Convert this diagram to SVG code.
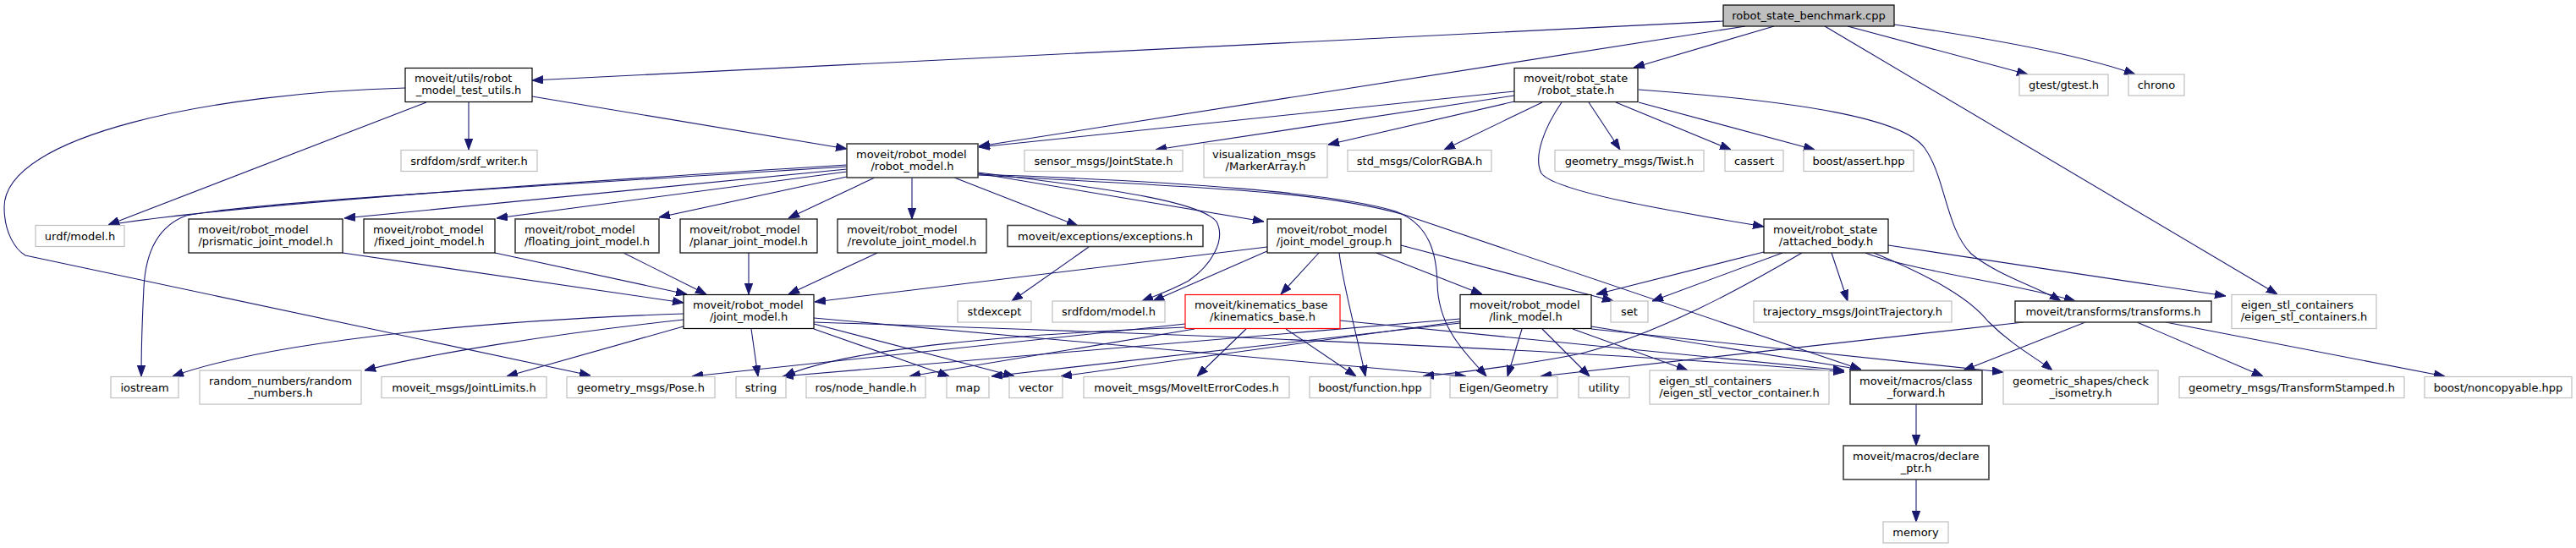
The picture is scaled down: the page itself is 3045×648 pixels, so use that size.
<svg xmlns="http://www.w3.org/2000/svg" width="3045" height="648" viewBox="0 0 3045 648">
<style>
text{font-family:"DejaVu Sans","Liberation Sans",sans-serif;font-size:13px;fill:#000}
.m{text-anchor:middle}
rect{fill:#fff;stroke:#000;stroke-width:1.2}
.g rect{stroke:#404040;stroke-width:1.6}
.x rect{stroke:#bfbfbf;stroke-width:1.2}
.r rect{stroke:#ff0000}
.root rect{fill:#bfbfbf;stroke:#000}
#edges path{fill:none;stroke:#191970;stroke-width:1.1;marker-end:url(#a)}
</style>
<defs>
<marker id="a" markerUnits="userSpaceOnUse" viewBox="0 -5 13 10" refX="13" refY="0" markerWidth="13" markerHeight="10" orient="auto">
<path d="M0,-4.7 L13,0 L0,4.7 z" fill="#191970" stroke="#191970" stroke-width="1"/>
</marker>
</defs>
<rect x="0" y="0" width="3045" height="648" style="fill:#fff;stroke:none"/>
<g id="edges">
<path d="M2037,25 L629,95"/>
<path d="M2097,31 L1931,80"/>
<path d="M2063,31 L1157,173"/>
<path d="M2184,31 L2397,88"/>
<path d="M2239,29 C2350,45 2460,65 2524,88"/>
<path d="M2157,31 L2692,348"/>
<path d="M629,114 L1001,176"/>
<path d="M554,121 L554,177"/>
<path d="M504,121 L128,266"/>
<path d="M479,104 C250,110 5,160 5,245 C5,275 18,295 30,302 L698,444"/>
<path d="M1790,108 L1157,174"/>
<path d="M1790,113 L1366,177"/>
<path d="M1790,120 L1570,171"/>
<path d="M1823,121 L1707,177"/>
<path d="M1878,121 L1915,177"/>
<path d="M1910,121 L2046,177"/>
<path d="M1937,121 L2145,177"/>
<path d="M1846,121 C1826,150 1812,185 1822,205 C1840,228 1990,252 2085,268"/>
<path d="M1937,106 C2130,120 2250,140 2275,175 C2300,210 2300,270 2330,300 C2360,325 2410,340 2436,356"/>
<path d="M1001,195 Q300,238 128,266"/>
<path d="M1001,197 C600,222 290,240 220,255 C185,268 172,300 170,340 C168,380 167,420 167,445"/>
<path d="M1001,200 L407,258"/>
<path d="M1001,203 L587,258"/>
<path d="M1001,209 L779,257"/>
<path d="M1034,210 L932,258"/>
<path d="M1078,210 L1078,259"/>
<path d="M1128,210 L1274,267"/>
<path d="M1156,205 L1494,262"/>
<path d="M1156,204 C1330,225 1420,240 1438,262 C1450,285 1430,315 1405,332 C1385,343 1365,350 1350,356"/>
<path d="M1156,206 C1400,215 1580,228 1650,250 C1690,265 1698,300 1699,335 C1700,390 1735,420 1757,445"/>
<path d="M1156,207 C1420,222 1560,225 1660,254 L2200,437"/>
<path d="M1656,290 L1907,356"/>
<path d="M1627,299 L1752,348"/>
<path d="M1498,292 L963,357"/>
<path d="M1500,296 L1363,356"/>
<path d="M1559,299 L1514,348"/>
<path d="M1583,299 C1588,340 1605,400 1614,445"/>
<path d="M1287,292 L1196,356"/>
<path d="M2085,298 L1887,348"/>
<path d="M2107,299 L1953,356"/>
<path d="M2130,299 C2060,340 1960,395 1869,418 C1800,432 1730,440 1682,445"/>
<path d="M2165,299 L2184,356"/>
<path d="M2215,299 C2290,330 2330,355 2350,380 C2380,410 2410,425 2426,438"/>
<path d="M2205,299 C2260,320 2380,335 2453,356"/>
<path d="M2232,290 L2631,350"/>
<path d="M1799,389 L1782,445"/>
<path d="M1823,389 L1879,445"/>
<path d="M1859,389 L1995,438"/>
<path d="M1881,386 L2200,437"/>
<path d="M1881,389 L2368,440"/>
<path d="M1726,377 L925,445"/>
<path d="M1726,380 L1254,445"/>
<path d="M1726,382 L1172,445"/>
<path d="M1401,387 C1200,395 1000,412 927,445"/>
<path d="M1412,389 L1075,445"/>
<path d="M1401,383 L818,445"/>
<path d="M1473,389 L1415,445"/>
<path d="M1520,389 L1603,445"/>
<path d="M1584,379 L2180,438"/>
<path d="M808,371 C600,378 330,400 204,445"/>
<path d="M808,378 C650,395 500,420 431,438"/>
<path d="M808,386 L599,445"/>
<path d="M888,389 L896,445"/>
<path d="M962,389 L1122,445"/>
<path d="M962,383 L1199,445"/>
<path d="M962,376 L1733,445"/>
<path d="M962,381 C1400,395 1900,415 2180,440"/>
<path d="M2465,381 L2321,438"/>
<path d="M2392,381 L1821,445"/>
<path d="M2526,381 L2675,445"/>
<path d="M2560,381 L2890,445"/>
<path d="M2265,478 L2265,527"/>
<path d="M2265,567 L2265,617"/>
<path d="M405,299 L808,358"/>
<path d="M585,299 L812,348"/>
<path d="M737,299 L835,348"/>
<path d="M885,299 L885,348"/>
<path d="M1037,299 L932,348"/>
</g>
<g id="n_cpp" class="root"><rect x="2037" y="6" width="202" height="25"/><text class="m" x="2138" y="23">robot_state_benchmark.cpp</text></g>
<g id="n_test_utils"><rect x="479" y="80.5" width="150" height="40"/><text x="490" y="97">moveit/utils/robot</text><text class="m" x="554" y="111">_model_test_utils.h</text></g>
<g id="n_robot_state"><rect x="1790" y="80.5" width="146" height="40"/><text x="1801" y="97">moveit/robot_state</text><text class="m" x="1863" y="111">/robot_state.h</text></g>
<g id="n_gtest" class="x"><rect x="2387" y="88" width="105" height="25"/><text class="m" x="2439.5" y="105">gtest/gtest.h</text></g>
<g id="n_chrono" class="x"><rect x="2516" y="88" width="66" height="25"/><text class="m" x="2549" y="105">chrono</text></g>
<g id="n_robot_model" class="g"><rect x="1001" y="170" width="155" height="40"/><text x="1012" y="186.5">moveit/robot_model</text><text class="m" x="1078.5" y="200.5">/robot_model.h</text></g>
<g id="n_srdf_writer" class="x"><rect x="474" y="177.5" width="161" height="25"/><text class="m" x="554.5" y="194.5">srdfdom/srdf_writer.h</text></g>
<g id="n_jointstate" class="x"><rect x="1211" y="177.5" width="187" height="25"/><text class="m" x="1304.5" y="194.5">sensor_msgs/JointState.h</text></g>
<g id="n_markerarray" class="x"><rect x="1423" y="170" width="146" height="40"/><text x="1433" y="186.5">visualization_msgs</text><text class="m" x="1496" y="200.5">/MarkerArray.h</text></g>
<g id="n_colorrgba" class="x"><rect x="1593" y="177.5" width="170" height="25"/><text class="m" x="1678" y="194.5">std_msgs/ColorRGBA.h</text></g>
<g id="n_twist" class="x"><rect x="1838" y="177.5" width="176" height="25"/><text class="m" x="1926" y="194.5">geometry_msgs/Twist.h</text></g>
<g id="n_cassert" class="x"><rect x="2039" y="177.5" width="69" height="25"/><text class="m" x="2073.5" y="194.5">cassert</text></g>
<g id="n_boost_assert" class="x"><rect x="2132" y="177.5" width="130" height="25"/><text class="m" x="2197" y="194.5">boost/assert.hpp</text></g>
<g id="n_urdf" class="x"><rect x="42" y="266.5" width="105" height="25"/><text class="m" x="94.5" y="283.5">urdf/model.h</text></g>
<g id="n_prismatic"><rect x="223" y="259" width="182" height="40"/><text x="234" y="275.5">moveit/robot_model</text><text class="m" x="314" y="289.5">/prismatic_joint_model.h</text></g>
<g id="n_fixed"><rect x="430" y="259" width="155" height="40"/><text x="441" y="275.5">moveit/robot_model</text><text class="m" x="507.5" y="289.5">/fixed_joint_model.h</text></g>
<g id="n_floating" class="g"><rect x="609" y="259" width="170" height="40"/><text x="620" y="275.5">moveit/robot_model</text><text class="m" x="694" y="289.5">/floating_joint_model.h</text></g>
<g id="n_planar"><rect x="804" y="259" width="162" height="40"/><text x="815" y="275.5">moveit/robot_model</text><text class="m" x="885" y="289.5">/planar_joint_model.h</text></g>
<g id="n_revolute"><rect x="990" y="259" width="176" height="40"/><text x="1001" y="275.5">moveit/robot_model</text><text class="m" x="1078" y="289.5">/revolute_joint_model.h</text></g>
<g id="n_exceptions" class="g"><rect x="1191" y="266.5" width="231" height="25"/><text class="m" x="1306.5" y="283.5">moveit/exceptions/exceptions.h</text></g>
<g id="n_jmg"><rect x="1498" y="259" width="158" height="40"/><text x="1509" y="275.5">moveit/robot_model</text><text class="m" x="1577" y="289.5">/joint_model_group.h</text></g>
<g id="n_attached_body"><rect x="2085" y="259" width="147" height="40"/><text x="2096" y="275.5">moveit/robot_state</text><text class="m" x="2158.5" y="289.5">/attached_body.h</text></g>
<g id="n_joint_model"><rect x="808" y="348.5" width="154" height="40"/><text x="819" y="365">moveit/robot_model</text><text class="m" x="885" y="379">/joint_model.h</text></g>
<g id="n_stdexcept" class="x"><rect x="1132" y="356" width="87" height="25"/><text class="m" x="1175.5" y="373">stdexcept</text></g>
<g id="n_srdf_model" class="x"><rect x="1244" y="356" width="133" height="25"/><text class="m" x="1310.5" y="373">srdfdom/model.h</text></g>
<g id="n_kinematics" class="r"><rect x="1401" y="348.5" width="183" height="40"/><text x="1412" y="365">moveit/kinematics_base</text><text class="m" x="1492.5" y="379">/kinematics_base.h</text></g>
<g id="n_link_model"><rect x="1726" y="348.5" width="155" height="40"/><text x="1737" y="365">moveit/robot_model</text><text class="m" x="1803.5" y="379">/link_model.h</text></g>
<g id="n_set" class="x"><rect x="1904" y="356" width="44" height="25"/><text class="m" x="1926" y="373">set</text></g>
<g id="n_trajectory" class="x"><rect x="2073" y="356" width="234" height="25"/><text class="m" x="2190" y="373">trajectory_msgs/JointTrajectory.h</text></g>
<g id="n_transforms" class="g"><rect x="2382" y="356" width="232" height="25"/><text class="m" x="2498" y="373">moveit/transforms/transforms.h</text></g>
<g id="n_eigen_stl_containers" class="x"><rect x="2638" y="348.5" width="171" height="40"/><text x="2649" y="365">eigen_stl_containers</text><text class="m" x="2723.5" y="379">/eigen_stl_containers.h</text></g>
<g id="n_iostream" class="x"><rect x="131" y="445.5" width="80" height="25"/><text class="m" x="171" y="462.5">iostream</text></g>
<g id="n_random_numbers" class="x"><rect x="236" y="438" width="191" height="40"/><text x="247" y="454.5">random_numbers/random</text><text class="m" x="331.5" y="468.5">_numbers.h</text></g>
<g id="n_jointlimits" class="x"><rect x="451" y="445.5" width="195" height="25"/><text class="m" x="548.5" y="462.5">moveit_msgs/JointLimits.h</text></g>
<g id="n_pose" class="x"><rect x="670" y="445.5" width="175" height="25"/><text class="m" x="757.5" y="462.5">geometry_msgs/Pose.h</text></g>
<g id="n_string" class="x"><rect x="870" y="445.5" width="59" height="25"/><text class="m" x="899.5" y="462.5">string</text></g>
<g id="n_node_handle" class="x"><rect x="953" y="445.5" width="141" height="25"/><text class="m" x="1023.5" y="462.5">ros/node_handle.h</text></g>
<g id="n_map" class="x"><rect x="1119" y="445.5" width="50" height="25"/><text class="m" x="1144" y="462.5">map</text></g>
<g id="n_vector" class="x"><rect x="1193" y="445.5" width="63" height="25"/><text class="m" x="1224.5" y="462.5">vector</text></g>
<g id="n_errorcodes" class="x"><rect x="1281" y="445.5" width="243" height="25"/><text class="m" x="1402.5" y="462.5">moveit_msgs/MoveItErrorCodes.h</text></g>
<g id="n_boost_function" class="x"><rect x="1548" y="445.5" width="143" height="25"/><text class="m" x="1619.5" y="462.5">boost/function.hpp</text></g>
<g id="n_eigen_geometry" class="x"><rect x="1714" y="445.5" width="127" height="25"/><text class="m" x="1777.5" y="462.5">Eigen/Geometry</text></g>
<g id="n_utility" class="x"><rect x="1866" y="445.5" width="60" height="25"/><text class="m" x="1896" y="462.5">utility</text></g>
<g id="n_eigen_stl_vector" class="x"><rect x="1950" y="438" width="212" height="40"/><text x="1961" y="454.5">eigen_stl_containers</text><text class="m" x="2056" y="468.5">/eigen_stl_vector_container.h</text></g>
<g id="n_class_forward" class="g"><rect x="2187" y="438" width="156" height="40"/><text x="2198" y="454.5">moveit/macros/class</text><text class="m" x="2265" y="468.5">_forward.h</text></g>
<g id="n_check_isometry" class="x"><rect x="2368" y="438" width="183" height="40"/><text x="2379" y="454.5">geometric_shapes/check</text><text class="m" x="2459.5" y="468.5">_isometry.h</text></g>
<g id="n_transformstamped" class="x"><rect x="2576" y="445.5" width="266" height="25"/><text class="m" x="2709" y="462.5">geometry_msgs/TransformStamped.h</text></g>
<g id="n_noncopyable" class="x"><rect x="2866" y="445.5" width="174" height="25"/><text class="m" x="2953" y="462.5">boost/noncopyable.hpp</text></g>
<g id="n_declare_ptr" class="g"><rect x="2179" y="527" width="172" height="40"/><text x="2190" y="543.5">moveit/macros/declare</text><text class="m" x="2265" y="557.5">_ptr.h</text></g>
<g id="n_memory" class="x"><rect x="2226" y="617" width="77" height="25"/><text class="m" x="2264.5" y="634">memory</text></g>
</svg>
